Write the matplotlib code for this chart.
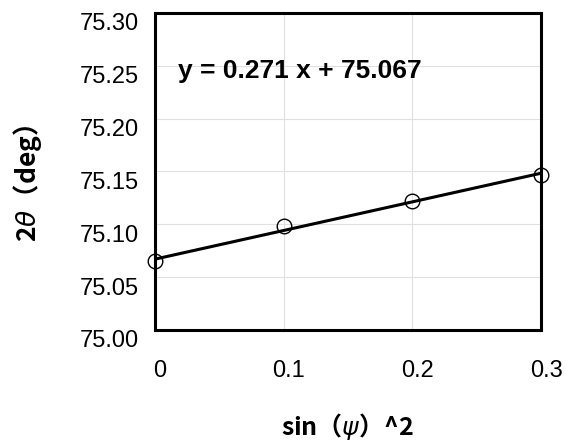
import numpy as np
import matplotlib
matplotlib.use('Agg')
from matplotlib import pyplot as plt
from matplotlib import transforms

plt.rcParams['font.family'] = ['Liberation Sans', 'Noto Sans CJK JP', 'DejaVu Sans']

# data
sin2psi = [0.0, 0.1, 0.2, 0.3]
two_theta = [75.065, 75.098, 75.122, 75.147]
slope = 0.271
intercept = 75.067
xticks = [0, 0.1, 0.2, 0.3]
xticklabels = ['0', '0.1', '0.2', '0.3']
yticks = [75.00, 75.05, 75.10, 75.15, 75.20, 75.25, 75.30]
yticklabels = ['%.2f' % v for v in yticks]

fig = plt.figure(figsize=(5.66, 4.47), dpi=100)
ax = fig.add_axes([0.274, 0.262, 0.682, 0.709])

xfit = np.array([sin2psi[0], sin2psi[-1]])
ax.plot(xfit, slope * xfit + intercept, color='black', lw=2.2, zorder=3)
ax.plot(sin2psi, two_theta, 'o', ms=10.5, mfc='none', mec='black', mew=1.0,
        zorder=4, clip_on=False)

ax.set_xlim(0, 0.3)
ax.set_ylim(75.0, 75.3)
ax.set_xticks(xticks)
ax.set_xticklabels(xticklabels)
ax.set_yticks(yticks)
ax.set_yticklabels(yticklabels)
ax.grid(True, color='#e0e0e0', lw=0.8)
ax.set_axisbelow(True)
ax.tick_params(length=0, labelsize=17)
ax.tick_params(axis='x', pad=22)
ax.tick_params(axis='y', pad=12)

# labels sit a bit off their gridlines in the reference
for lab in ax.get_yticklabels():
    lab.set_transform(lab.get_transform() +
                      transforms.ScaledTranslation(0, -9 / 100, fig.dpi_scale_trans))
for lab in ax.get_xticklabels():
    lab.set_transform(lab.get_transform() +
                      transforms.ScaledTranslation(5 / 100, 0, fig.dpi_scale_trans))

for s in ax.spines.values():
    s.set_linewidth(2.2)

ax.text(0.018, 75.245, 'y = 0.271 x + 75.067', fontsize=19, fontweight='bold',
        va='center', ha='left')

fig.text(0.048, 0.59, '2$\\theta$\uff08deg\uff09', rotation=90, fontsize=19,
         fontweight='bold', ha='center', va='center',
         family=['Noto Sans CJK JP', 'DejaVu Sans'])
fig.text(0.613, 0.045, 'sin\uff08$\\psi$\uff09^2', fontsize=18,
         fontweight='bold', ha='center', va='center',
         family=['Noto Sans CJK JP', 'DejaVu Sans'])

fig.savefig('out.png', dpi=100)
